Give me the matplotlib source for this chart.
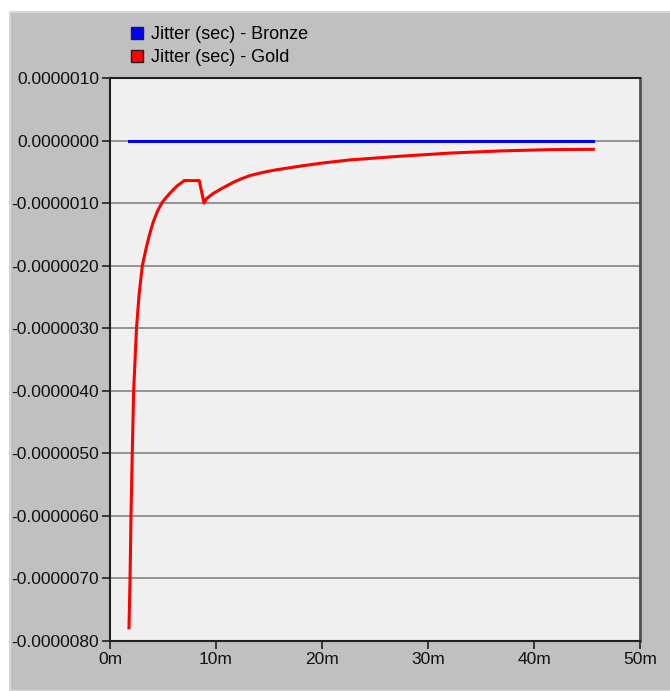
import numpy as np
import matplotlib
matplotlib.use("Agg")
import matplotlib.pyplot as plt
from matplotlib.lines import Line2D
from matplotlib.patches import Rectangle

plt.rcParams['font.family'] = ['Liberation Sans', 'DejaVu Sans']

#----Data (x in minutes, y in seconds)----
bronzeX = [1.8, 45.6]
bronzeY = [0.0, 0.0]

goldX = [1.79, 1.89, 1.98, 2.1, 2.23, 2.5, 2.75, 3.05, 3.4, 3.7, 4.08, 4.45, 4.88,
         5.25, 5.66, 6.3, 7.0, 8.42, 8.87, 9.1, 9.7, 10.4, 11.6, 12.4, 13.2, 14.4,
         15.6, 17.9, 20.0, 22.6, 27.4, 32.1, 36.8, 41.5, 45.6]
goldY = np.array([-7.79, -7.0, -6.0, -5.0, -4.0, -3.0, -2.45, -2.0, -1.73, -1.52,
                  -1.3, -1.14, -1.0, -0.92, -0.84, -0.73, -0.64, -0.64, -1.0,
                  -0.93, -0.85, -0.78, -0.67, -0.61, -0.56, -0.51, -0.47, -0.41,
                  -0.36, -0.31, -0.25, -0.20, -0.166, -0.145, -0.14]) * 1e-6

yTicks = np.arange(1, -9, -1) * 1e-6
yTickLabels = ["0.0000010", "0.0000000", "-0.0000010", "-0.0000020", "-0.0000030",
               "-0.0000040", "-0.0000050", "-0.0000060", "-0.0000070", "-0.0000080"]
xTicks = [0, 10, 20, 30, 40, 50]
xTickLabels = ["0m", "10m", "20m", "30m", "40m", "50m"]
seriesNames = ["Jitter (sec) - Bronze", "Jitter (sec) - Gold"]
#----End Data----

W, H = 670, 691
fig = plt.figure(figsize=(W/100, H/100), dpi=100)
fig.patch.set_facecolor("white")
#outer gray panel (behind the axes)
fig.patches.append(Rectangle((10/W, 0), 1, (H-12)/H, transform=fig.transFigure,
                             facecolor="#c0c0c0", edgecolor="#d8d8d8", lw=1.5, zorder=-1))

ax = fig.add_axes([110/W, 1-641/H, 530/W, 563/H])
ax.set_facecolor("#f0f0f0")

ax.plot(bronzeX, bronzeY, color="#0000ff", lw=2.2, zorder=3)
ax.plot(goldX, goldY, color="#ff0000", lw=2.2, zorder=3)

ax.set_xlim(0, 50)
ax.set_ylim(-8e-6, 1e-6)
ax.set_yticks(yTicks, yTickLabels)
ax.set_xticks(xTicks, xTickLabels)
ax.tick_params(axis="both", direction="out", length=6, width=1.2, color="#202020",
               labelsize=12.5, labelcolor="#101010", pad=2)
ax.yaxis.grid(True, color="#8c8c8c", lw=1.3)
ax.set_axisbelow(True)
for s in ["left", "bottom", "top"]:
    ax.spines[s].set_color("#202020")
    ax.spines[s].set_linewidth(1.5)
ax.spines["right"].set_color("#505050")
ax.spines["right"].set_linewidth(2.0)

handles = [Line2D([], [], ls="", marker="s", markersize=8, markerfacecolor=c,
                  markeredgecolor="#202020", markeredgewidth=1.0)
           for c in ["#0000ff", "#ff0000"]]
fig.legend(handles, seriesNames, loc="upper left", bbox_to_anchor=(121/W, 1-17/H),
           bbox_transform=fig.transFigure, frameon=False, borderpad=0,
           handlelength=0.8, handletextpad=0.35, labelspacing=0.35, fontsize=13)

fig.savefig("out.png", dpi=100, facecolor=fig.get_facecolor())
